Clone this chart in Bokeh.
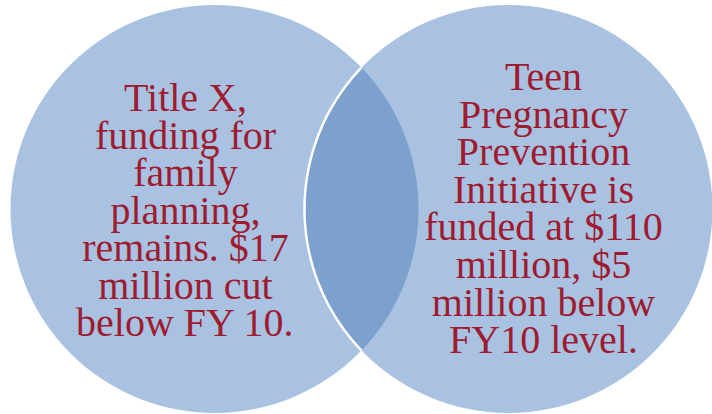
import numpy as np
from bokeh.plotting import figure
from bokeh.models import Range1d
from bokeh.core.properties import value
from bokeh.embed import file_html
from bokeh.resources import INLINE

# --- data ---
set_names = ["Title X", "Teen Pregnancy Prevention Initiative"]
left_lines = ["Title X,", "funding for", "family", "planning,",
              "remains. $17", "million cut", "below FY 10."]
right_lines = ["Teen", "Pregnancy", "Prevention", "Initiative is",
               "funded at $110", "million, $5", "million below", "FY10 level."]

# --- layout (reference pixel coordinates) ---
cx = [214, 508]
cy = [208.5, 208.5]
r = 204
LIGHT = "#A9C2E1"
DARK = "#7CA1CC"
TEXT = "#9E1B30"

p = figure(width=712, height=414, output_backend="svg", toolbar_location=None,
           x_range=Range1d(0, 712), y_range=Range1d(414, 0), min_border=0,
           background_fill_color="white", border_fill_color="white")
p.axis.visible = False
p.grid.visible = False
p.outline_line_color = None

# circles
p.circle(x=cx, y=cy, radius=r, fill_color=LIGHT, line_color=None)

# lens (overlap region)
d = cx[1] - cx[0]
a = d / 2
h = np.sqrt(r**2 - a**2)
th = np.arctan2(h, a)
t1 = np.linspace(-th, th, 120)
lx1 = cx[0] + r * np.cos(t1)
ly1 = cy[0] + r * np.sin(t1)
t2 = np.linspace(np.pi + th, np.pi - th, 120)
lx2 = cx[1] + r * np.cos(t2)
ly2 = cy[1] + r * np.sin(t2)
p.patch(x=np.concatenate([lx1, lx2]), y=np.concatenate([ly1, ly2]),
        fill_color=DARK, line_color=None)

# white outline of right circle inside the overlap
p.line(x=lx2, y=ly2, line_color="white", line_width=2.5)

# texts
sp_l = 37.5
p.text(x=[185] * len(left_lines), y=[97 + i * sp_l for i in range(len(left_lines))],
       text=left_lines, text_align="center", text_baseline="alphabetic",
       text_font=value("Liberation Serif"), text_font_size="40px", text_color=TEXT)
sp_r = 37.6
p.text(x=[543] * len(right_lines), y=[76 + i * sp_r for i in range(len(right_lines))],
       text=right_lines, text_align="center", text_baseline="alphabetic",
       text_font=value("Liberation Serif"), text_font_size="40px", text_color=TEXT)

open("out.html", "w").write(file_html(p, INLINE))
